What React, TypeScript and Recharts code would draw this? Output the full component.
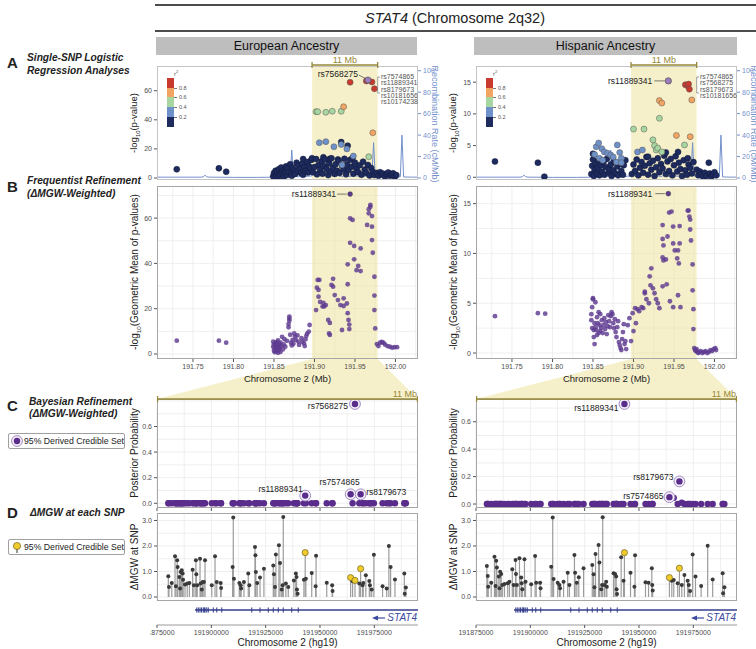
import React from 'react';
import {
  ComposedChart, Scatter, Line, XAxis, YAxis, CartesianGrid, ReferenceArea, ErrorBar,
} from 'recharts';

type Pt = [number, number];

// ---------- shared scales / ticks ----------
const mbDomain: [number, number] = [191.7056, 192.0278];
const hgDomain: [number, number] = [191875000, 191995100];
const recDomain: [number, number] = [-1.86, 104.4];
const mbTicks = [191.75, 191.8, 191.85, 191.9, 191.95, 192.0];
const mbMinorTicks = [191.725, 191.775, 191.825, 191.875, 191.925, 191.975, 192.025];
const hgTicks = [191875000, 191900000, 191925000, 191950000, 191975000];
const hgMinorTicks = [191887500, 191912500, 191937500, 191962500, 191987500];
const recTicks = [0, 20, 40, 60, 80, 100];
const band11Mb = [191.897, 191.978];
const r2Breaks = [0.2, 0.4, 0.6, 0.8];

// recombination rate (cM/Mb), same map under both panels
const recombMb = [191.706, 191.729, 191.76, 191.763, 191.765, 191.767, 191.77, 191.8, 191.83, 191.845, 191.85, 191.855, 191.86, 191.866, 191.87, 191.872, 191.874, 191.88, 191.89, 191.897, 191.9, 191.902, 191.91, 191.915, 191.917, 191.925, 191.935, 191.94, 191.942, 191.95, 191.96, 191.968, 191.971, 191.973, 191.975, 191.98, 191.99, 192.0, 192.006, 192.008, 192.01, 192.02, 192.027];
const recombRate = [0.8, 0.8, 0.8, 1.2, 2.6, 1.2, 0.8, 0.6, 0.6, 0.7, 1.4, 0.9, 1.6, 1.0, 1.8, 26, 1.8, 1.2, 1.5, 2.0, 9, 1.5, 2.2, 6, 1.6, 2.5, 1.4, 5, 1.5, 2.0, 1.4, 2.2, 3, 33, 2.0, 1.0, 1.2, 1.0, 1.2, 40, 1.0, 0.8, 0.8];

// STAT4 gene model (hg19)
const stat4Span = [191892500, 191995100];
const stat4Exons = [191893300, 191894000, 191894800, 191895500, 191896300, 191896800, 191897100, 191897900, 191898600, 191900900, 191902500, 191904800, 191918600, 191922400, 191926200, 191928500, 191930800, 191933100, 191937000, 191940000];

// ---------- A: single-SNP -log10(p), European, by r2 bin ----------
const eurA_r2_00: Pt[] = [
  [191.73, 6.0], [191.782, 6.7], [191.791, 4.3],
  [191.849, 1.2], [191.85, 3.5], [191.851, 0.8], [191.852, 5.0], [191.853, 2.2], [191.854, 4.2], [191.855, 1.0], [191.856, 6.1], [191.857, 3.0], [191.858, 1.8], [191.859, 7.2], [191.86, 4.5], [191.861, 2.5], [191.862, 0.9], [191.863, 5.5], [191.864, 3.8], [191.865, 8.0], [191.866, 2.0], [191.867, 6.5], [191.868, 4.0], [191.87, 9.5], [191.871, 3.2], [191.872, 1.5], [191.873, 7.0], [191.875, 5.2], [191.876, 2.8], [191.878, 10.5], [191.879, 4.6], [191.88, 8.8], [191.882, 6.0], [191.883, 3.5], [191.885, 9.8], [191.886, 13.0], [191.886, 2.2], [191.888, 7.5], [191.889, 5.0], [191.891, 11.0], [191.892, 3.8], [191.893, 8.2], [191.895, 6.8], [191.896, 12.4],
  [191.897, 13.6], [191.898, 4.0], [191.9, 7.5], [191.902, 13.0], [191.903, 2.5], [191.905, 9.0], [191.907, 5.5], [191.909, 11.5], [191.91, 3.0], [191.911, 14.2], [191.912, 8.0], [191.913, 12.8], [191.915, 6.2], [191.917, 2.0], [191.918, 10.0], [191.919, 13.2], [191.92, 4.5], [191.921, 13.5], [191.923, 7.0], [191.925, 2.8], [191.926, 9.5], [191.928, 5.0], [191.929, 12.8], [191.93, 11.8], [191.931, 3.5], [191.933, 24.7], [191.934, 8.5], [191.936, 6.0], [191.937, 13.2], [191.939, 2.5], [191.94, 9.2], [191.941, 22.2], [191.942, 5.5], [191.944, 12.5], [191.946, 7.8], [191.947, 13.8], [191.948, 3.0], [191.95, 10.5], [191.952, 6.5], [191.954, 4.0], [191.956, 8.8], [191.958, 2.2], [191.96, 11.2], [191.962, 5.8], [191.964, 3.5], [191.966, 9.0], [191.968, 1.8], [191.97, 6.8], [191.972, 4.2], [191.974, 2.0],
  [191.977, 3.5], [191.979, 1.5], [191.981, 4.0], [191.983, 2.5], [191.985, 3.0], [191.987, 1.0], [191.989, 2.8], [191.991, 3.8], [191.993, 1.5], [191.995, 2.2], [191.997, 3.2], [191.999, 0.8], [192.001, 2.0],
];
const eurA_r2_02: Pt[] = [[191.906, 24.3], [191.914, 25.0], [191.924, 21.5], [191.933, 23.0], [191.94, 20.0], [191.948, 15.1], [191.934, 9.0]];
const eurA_r2_04: Pt[] = [[191.902, 45.6], [191.904, 45.6], [191.914, 45.2], [191.922, 45.9], [191.933, 45.9], [191.967, 14.6]];
const eurA_r2_06: Pt[] = [[191.936, 49.0], [191.972, 31.1]];
const eurA_r2_08: Pt[] = [[191.944, 65.8], [191.964, 66.7], [191.971, 66.0], [191.974, 61.4]];
const eurA_lead: Pt = [191.966, 67.3];
const eurTopSnps = ['rs7574865', 'rs11889341', 'rs8179673', 'rs10181656', 'rs10174238'];

// ---------- A: Hispanic ----------
const hisA_r2_00: Pt[] = [
  [191.729, 2.5], [191.782, 2.3], [191.79, 0.1],
  [191.848, 0.5], [191.849, 1.8], [191.85, 2.8], [191.85, 3.7], [191.851, 0.2], [191.852, 1.2], [191.853, 2.2], [191.855, 0.6], [191.856, 1.5], [191.857, 2.6], [191.858, 0.3], [191.86, 1.9], [191.861, 0.9], [191.863, 2.4], [191.864, 0.4], [191.866, 1.6], [191.867, 2.9], [191.869, 0.7], [191.87, 1.3], [191.872, 2.0], [191.873, 0.2], [191.875, 1.1], [191.876, 2.5], [191.878, 0.6], [191.88, 1.7], [191.881, 0.3], [191.883, 2.1], [191.885, 1.0], [191.887, 0.4], [191.888, 1.9], [191.89, 2.7],
  [191.898, 0.5], [191.9, 2.0], [191.902, 1.0], [191.904, 2.8], [191.906, 0.3], [191.908, 1.5], [191.91, 2.4], [191.912, 0.7], [191.914, 1.8], [191.916, 3.2], [191.918, 0.4], [191.918, 3.25], [191.92, 2.2], [191.922, 1.2], [191.924, 2.6], [191.926, 0.2], [191.928, 1.6], [191.93, 3.0], [191.932, 0.8], [191.934, 2.1], [191.936, 1.4], [191.938, 3.4], [191.94, 0.5], [191.94, 3.9], [191.942, 2.5], [191.944, 1.0], [191.946, 2.9], [191.948, 0.3], [191.95, 1.9], [191.952, 3.3], [191.954, 0.9], [191.955, 4.0], [191.956, 2.3], [191.958, 1.3], [191.96, 0.2], [191.962, 2.7], [191.964, 1.1], [191.966, 0.4], [191.967, 3.0], [191.968, 2.0], [191.97, 1.5], [191.972, 0.6], [191.974, 2.4],
  [191.978, 1.2], [191.98, 0.3], [191.982, 0.9], [191.984, 0.5], [191.986, 0.1], [191.988, 0.7], [191.99, 0.2], [191.993, 2.3], [191.994, 0.6], [191.996, 0.1], [191.998, 0.5], [192.0, 0.8], [192.002, 0.3],
];
const hisA_r2_02: Pt[] = [[191.852, 3.6], [191.854, 4.8], [191.857, 5.4], [191.858, 3.0], [191.861, 4.5], [191.862, 2.7], [191.864, 4.0], [191.868, 3.8], [191.872, 3.5], [191.875, 3.2], [191.879, 2.4], [191.88, 5.1], [191.883, 3.9], [191.885, 3.0], [191.885, 2.3], [191.905, 4.0], [191.911, 4.3]];
const hisA_r2_04: Pt[] = [[191.9, 7.6], [191.913, 7.6], [191.924, 5.9], [191.926, 5.0], [191.928, 4.3], [191.93, 4.6], [191.932, 9.3], [191.935, 4.0], [191.963, 5.1]];
const hisA_r2_06: Pt[] = [[191.932, 12.1], [191.935, 11.7], [191.953, 6.6], [191.97, 6.4], [191.972, 12.2]];
const hisA_r2_08: Pt[] = [[191.964, 14.6], [191.967, 14.4], [191.968, 14.7], [191.969, 13.9]];
const hisA_lead: Pt = [191.943, 15.2];
const hisTopSnps = ['rs7574865', 'rs7568275', 'rs8179673', 'rs10181656'];

// ---------- B: -log10 geometric mean of p (dMGW weighted) ----------
const eurGmw: Pt[] = [
  [191.73, 5.9], [191.782, 5.9], [191.791, 5.0],
  [191.849, 5.4], [191.849, 3.2], [191.85, 1.5], [191.85, 4.2], [191.851, 2.5], [191.851, 0.8], [191.852, 4.8], [191.852, 3.5], [191.853, 1.2], [191.853, 5.2], [191.854, 2.2], [191.854, 4.0], [191.855, 0.5], [191.855, 6.0], [191.856, 3.0], [191.856, 1.8], [191.857, 4.5], [191.857, 2.8], [191.858, 0.9], [191.858, 5.0], [191.859, 3.6], [191.86, 7.6], [191.861, 2.0], [191.862, 4.2], [191.863, 6.5], [191.864, 3.2], [191.866, 5.8], [191.868, 11.8], [191.868, 13.2], [191.869, 14.7], [191.869, 15.6], [191.869, 16.5], [191.87, 8.5], [191.871, 5.0], [191.872, 3.8], [191.873, 6.2], [191.874, 4.5], [191.875, 9.1], [191.876, 7.8], [191.877, 6.2], [191.879, 8.2], [191.88, 5.5], [191.881, 4.0], [191.884, 7.0], [191.885, 5.4], [191.887, 4.7], [191.888, 3.5], [191.889, 6.5], [191.89, 8.0], [191.891, 9.0], [191.893, 9.9], [191.894, 12.8],
  [191.902, 19.4], [191.903, 29.3], [191.904, 32.7], [191.905, 28.3], [191.905, 25.3], [191.906, 32.7], [191.907, 23.0], [191.91, 21.0], [191.911, 22.6], [191.912, 21.0], [191.914, 21.6], [191.917, 15.0], [191.918, 9.1], [191.919, 13.7], [191.919, 8.4], [191.921, 30.5], [191.923, 33.2], [191.923, 29.7], [191.925, 26.0], [191.929, 23.8], [191.932, 21.6], [191.934, 10.6], [191.936, 24.6], [191.936, 21.2], [191.94, 22.3], [191.941, 30.8], [191.941, 39.6], [191.941, 18.0], [191.942, 15.0], [191.943, 13.0], [191.943, 11.0], [191.944, 59.9], [191.944, 49.1], [191.947, 59.2], [191.949, 47.7], [191.949, 41.8], [191.952, 37.0], [191.954, 38.9], [191.957, 46.6], [191.957, 36.6], [191.965, 57.0], [191.967, 63.9], [191.967, 62.1], [191.969, 65.8], [191.969, 65.0], [191.971, 60.9], [191.971, 56.2], [191.971, 50.3], [191.972, 44.7], [191.974, 34.1], [191.974, 25.8], [191.974, 19.4], [191.975, 11.3],
  [191.977, 4.4], [191.979, 3.5], [191.981, 5.0], [191.983, 5.3], [191.985, 5.0], [191.987, 4.2], [191.99, 3.5], [191.993, 3.2], [191.996, 2.8], [191.999, 3.0], [192.002, 3.0],
];
const eurB_lead: Pt = [191.944, 70.6];

const hisGmw: Pt[] = [
  [191.729, 3.7], [191.782, 4.0], [191.791, 3.95],
  [191.848, 3.9], [191.848, 3.3], [191.849, 2.5], [191.849, 4.6], [191.85, 5.4], [191.85, 5.5], [191.851, 1.6], [191.851, 2.3], [191.852, 0.9], [191.852, 3.0], [191.853, 2.6], [191.853, 5.1], [191.854, 2.3], [191.855, 3.6], [191.855, 1.8], [191.856, 3.0], [191.857, 2.0], [191.857, 4.1], [191.858, 2.8], [191.859, 3.9], [191.859, 2.2], [191.86, 2.5], [191.861, 3.3], [191.862, 2.0], [191.863, 2.8], [191.864, 3.5], [191.865, 2.4], [191.866, 3.1], [191.867, 1.9], [191.868, 2.7], [191.869, 3.8], [191.87, 3.2], [191.871, 2.6], [191.872, 3.7], [191.873, 4.1], [191.874, 3.9], [191.875, 3.0], [191.876, 2.5], [191.877, 3.4], [191.878, 2.1], [191.879, 1.6], [191.88, 2.6], [191.881, 3.2], [191.882, 1.1], [191.883, 0.8], [191.884, 0.5], [191.885, 0.3], [191.886, 1.4], [191.887, 2.1], [191.888, 2.9], [191.889, 0.9], [191.89, 1.2], [191.891, 0.4],
  [191.893, 2.8], [191.895, 3.5], [191.897, 1.2], [191.899, 4.0], [191.9, 2.2], [191.902, 4.5], [191.903, 3.0], [191.905, 4.4], [191.907, 4.2], [191.91, 4.6], [191.912, 4.5], [191.914, 6.15], [191.914, 6.0], [191.916, 5.4], [191.919, 5.0], [191.92, 7.7], [191.921, 6.8], [191.922, 8.5], [191.924, 6.5], [191.926, 6.0], [191.928, 5.4], [191.93, 5.0], [191.932, 4.5], [191.936, 9.6], [191.936, 11.45], [191.936, 12.85], [191.937, 10.8], [191.937, 9.3], [191.936, 6.7], [191.94, 9.4], [191.941, 6.9], [191.942, 11.7], [191.944, 14.1], [191.947, 14.2], [191.945, 5.2], [191.949, 12.7], [191.949, 11.0], [191.949, 4.6], [191.951, 10.3], [191.954, 9.5], [191.955, 10.3], [191.956, 9.0], [191.957, 12.75], [191.957, 11.0], [191.955, 5.8], [191.958, 4.6], [191.967, 14.3], [191.968, 14.3], [191.969, 13.7], [191.97, 13.4], [191.97, 12.4], [191.971, 11.3], [191.973, 8.9], [191.973, 6.3], [191.974, 4.4], [191.974, 2.4],
  [191.975, 0.5], [191.976, 0.3], [191.977, 0.2], [191.978, 0.4], [191.979, 0.1], [191.98, 0.0], [191.981, 0.1], [191.983, 0.2], [191.985, 0.0], [191.987, 0.1], [191.989, 0.2], [191.991, 0.0], [191.993, 0.1], [191.995, 0.3], [191.997, 0.2], [191.999, 0.4], [192.001, 0.5], [192.002, 0.3],
];
const hisB_lead: Pt = [191.943, 16.0];

// ---------- C/D: per-SNP dMGW (hg19 position, dMGW) ----------
const eurMgw: Pt[] = [
  [191880200, 0.81], [191880500, 0.39], [191881800, 0.55], [191883300, 1.6], [191884300, 1.44], [191883700, 0.42], [191884500, 1.18], [191885300, 0.78], [191885900, 0.98], [191886400, 1.05], [191885600, 0.33], [191886800, 0.92], [191887000, 0.68], [191887900, 0.49], [191888900, 0.53], [191889900, 0.55], [191891400, 1.07], [191892000, 0.46], [191892900, 1.44], [191893100, 0.89], [191893500, 0.46], [191894800, 1.5], [191895100, 0.53], [191895600, 0.29], [191896000, 0.59], [191896600, 0.59], [191897100, 1.44], [191900200, 0.46], [191901700, 1.6], [191902500, 0.59], [191904300, 0.55], [191904500, 0.35],
  [191909800, 1.18], [191910100, 3.12], [191910400, 0.72], [191912900, 0.55], [191913500, 0.46], [191913700, 0.33], [191915000, 0.59], [191917000, 0.92], [191917500, 0.46], [191920100, 1.96], [191920300, 1.64], [191920500, 0.98], [191921100, 0.55], [191922400, 0.76], [191924200, 1.11], [191928500, 1.24], [191928800, 0.89], [191929300, 0.39], [191929700, 1.67], [191931100, 2.03], [191931600, 1.33], [191933100, 3.14], [191932400, 0.29], [191932800, 0.46], [191934300, 0.53], [191935400, 0.39],
  [191938000, 0.65], [191938900, 0.92], [191939200, 0.78], [191939400, 0.29], [191939700, 0.13], [191942600, 0.68], [191943200, 1.74], [191943500, 0.72], [191946200, 0.94], [191948000, 0.42], [191948200, 1.62], [191953100, 0.56], [191955600, 0.46], [191955800, 0.24],
  [191964100, 0.76], [191965000, 0.62], [191966100, 0.65], [191968100, 0.53], [191968700, 1.11], [191969600, 0.46], [191969900, 0.55], [191971100, 0.85], [191972700, 0.63], [191973000, 0.46], [191973800, 0.29], [191974800, 1.66], [191978800, 0.42], [191980700, 0.33], [191981700, 2.0], [191982500, 1.18], [191984500, 0.69], [191988800, 0.92], [191989000, 0.13], [191989500, 0.37],
];
const hisMgw: Pt[] = [
  [191880000, 1.22], [191880400, 0.82], [191880600, 0.4], [191882000, 0.56], [191883500, 1.58], [191884300, 1.42], [191884600, 1.16], [191884000, 0.43], [191885500, 0.8], [191886100, 0.99], [191886600, 0.9], [191885800, 0.34], [191887100, 0.47], [191888100, 0.51], [191889600, 0.54], [191890400, 0.6], [191891700, 1.09], [191892300, 0.47], [191893200, 1.45], [191893400, 0.9], [191893800, 0.47], [191895000, 1.52], [191895800, 0.76], [191896000, 0.54], [191896300, 0.3], [191897300, 1.48], [191897800, 0.6], [191900400, 0.5], [191902200, 1.61], [191902700, 0.56], [191904500, 0.56], [191904700, 0.34],
  [191909600, 1.19], [191910300, 3.12], [191910700, 0.71], [191912600, 0.56], [191913400, 0.47], [191913700, 0.34], [191915300, 0.6], [191917200, 0.95], [191918000, 0.47], [191920300, 1.65], [191920600, 0.95], [191921400, 0.56], [191922300, 0.77], [191924500, 1.13], [191928500, 1.25], [191929100, 0.89], [191929500, 0.38], [191930000, 1.69], [191931400, 2.04], [191931800, 1.35], [191933300, 3.13], [191932600, 0.3], [191933000, 0.47], [191934100, 0.47], [191934900, 0.6], [191935200, 0.4],
  [191938300, 0.93], [191939000, 0.9], [191939500, 0.8], [191939700, 0.3], [191939900, 0.12], [191941800, 1.56], [191942900, 0.64], [191943300, 1.74], [191946100, 0.95], [191947900, 0.4], [191948200, 1.64], [191953000, 0.58], [191954400, 0.56], [191955900, 1.13], [191956100, 0.47], [191956300, 0.25],
  [191964000, 0.76], [191965100, 0.64], [191966000, 0.67], [191967800, 0.54], [191968600, 1.13], [191969700, 0.47], [191970900, 0.86], [191972400, 0.64], [191972900, 0.47], [191973500, 0.24], [191974700, 1.67], [191976000, 0.8], [191978600, 0.43], [191981600, 2.01], [191983900, 0.69], [191988500, 0.93], [191988700, 0.15], [191989300, 0.38],
];

// 95% derived credible sets: [rsID, hg19 position, posterior probability]
const eurCredible: [string, number, number][] = [
  ['rs11889341', 191943200, 0.06],
  ['rs7574865', 191964100, 0.07],
  ['rs7568275', 191966100, 0.776],
  ['rs8179673', 191968700, 0.07],
];
const hisCredible: [string, number, number][] = [
  ['rs11889341', 191943300, 0.73],
  ['rs7574865', 191964000, 0.05],
  ['rs8179673', 191968600, 0.165],
];
const hisPostOther: Pt[] = [[191965100, 0.045], [191966000, 0.045], [191969700, 0.01]];

// ---------- styling / layout ----------
const FONT = '"Liberation Sans", Arial, Helvetica, sans-serif';
const C = {
  navy: '#1E2B5E', lblue: '#6F91C9', green: '#A7D6A1', orange: '#F2A463', red: '#C93A2E', lead: '#9A7DBA',
  purple: '#5E3B90', cs: '#5A2C8B', ring: '#A28AC6', olive: '#978838', band: '#EEE39F', trap: '#F6F0CA',
  rec: '#7390CC', gene: '#353D8C', grid: '#EBEBEB', frame: '#A6A6A6', tick: '#4D4D4D', yellow: '#EFCB2D',
};
const PW = 261;
const ROWS = { A: [66, 180], B: [186, 359], C: [399, 508], D: [513, 601], G: [603, 625] };
const M0 = { top: 0, right: 0, bottom: 0, left: 0 };
const AX = { fontSize: 7, fill: C.tick, fontFamily: FONT };
const TL = { stroke: '#555' };

const toRows = (pts: Pt[]) => pts.map(([x, y]) => ({ x, y }));
const recombRows = recombMb.map((x, i) => ({ x, rate: recombRate[i] }));
const geneRows = stat4Span.map((x) => ({ x, y: 0 }));
const exonRows = stat4Exons.map((x) => ({ x, y: 0 }));
const mbPx = (mb: number, left: number) => left + ((mb - mbDomain[0]) / (mbDomain[1] - mbDomain[0])) * PW;

function gridGen(vals: number[], dom: number[], dir: 'x' | 'y') {
  return (props: any) => {
    const ax = dir === 'x' ? props.xAxis : props.yAxis;
    const o = props.offset;
    return vals.map((v) => {
      if (ax && typeof ax.scale === 'function') return ax.scale(v);
      return dir === 'x'
        ? o.left + ((v - dom[0]) / (dom[1] - dom[0])) * o.width
        : o.top + ((dom[1] - v) / (dom[1] - dom[0])) * o.height;
    });
  };
}

const dot = (r: number, fill: string, stroke = 'none', sw = 0, op = 1) => (p: any) => (
  <circle cx={p.cx} cy={p.cy} r={r} fill={fill} fillOpacity={op} stroke={stroke} strokeWidth={sw} />
);

const leadShape = (fill: string, label: string, c: any, r = 3.2) => (p: any) => (
  <g>
    <line x1={p.cx + c.lx1} y1={p.cy + c.ly1} x2={p.cx + c.lx2} y2={p.cy + c.ly2} stroke="#444" strokeWidth={0.7} />
    <text x={p.cx + c.tx} y={p.cy + c.ty} textAnchor="end" dominantBaseline="central" fontSize={8.5} fill="#222" fontFamily={FONT}>{label}</text>
    <circle cx={p.cx} cy={p.cy} r={r} fill={fill} stroke="#333" strokeWidth={0.5} />
  </g>
);

const csShape = (pos: any) => (p: any) => {
  const [dx, dy, anchor] = pos[p.payload.rs] || [6, -6, 'start'];
  return (
    <g>
      <circle cx={p.cx} cy={p.cy} r={5.4} fill="#F4F0F8" stroke={C.ring} strokeWidth={1} />
      <circle cx={p.cx} cy={p.cy} r={3.2} fill={C.cs} />
      <text x={p.cx + dx} y={p.cy + dy} textAnchor={anchor} dominantBaseline="central" fontSize={8.5} fill="#222" fontFamily={FONT}>{p.payload.rs}</text>
    </g>
  );
};

const exonShape = (p: any) => (
  <line x1={p.cx} x2={p.cx} y1={p.cy - 2.6} y2={p.cy + 2.6} stroke={C.gene} strokeWidth={1} />
);

const COLS = [
  {
    key: 'eur', left: 157, title: 'European Ancestry', header: [156, 417],
    a: [eurA_r2_00, eurA_r2_02, eurA_r2_04, eurA_r2_06, eurA_r2_08], aLead: eurA_lead, aLeadRs: 'rs7568275',
    aLeadCfg: { tx: -10, ty: -6, lx1: -9, ly1: -5, lx2: -2.5, ly2: -1.5 },
    aDomain: [-1.37, 77.0], aTicks: [0, 20, 40, 60], topSnps: eurTopSnps,
    b: eurGmw, bLead: eurB_lead, bLeadCfg: { tx: -14, ty: 0, lx1: -13, ly1: 0, lx2: -3.5, ly2: 0 },
    bDomain: [-2.21, 74.17], bTicks: [0, 20, 40, 60], bMinor: [10, 30, 50, 70],
    cDomain: [-0.037, 0.815], mgw: eurMgw, credible: eurCredible, postOther: [] as Pt[],
    csLabels: { rs7568275: [-7, 2, 'end'], rs11889341: [-2.5, -7, 'end'], rs7574865: [-11, -12, 'middle'], rs8179673: [5.5, -2.6, 'start'] },
    geneMargin: 7,
  },
  {
    key: 'his', left: 476, title: 'Hispanic Ancestry', header: [474, 737],
    a: [hisA_r2_00, hisA_r2_02, hisA_r2_04, hisA_r2_06, hisA_r2_08], aLead: hisA_lead, aLeadRs: 'rs11889341',
    aLeadCfg: { tx: -16, ty: 0, lx1: -14, ly1: 0, lx2: -3.5, ly2: 0 },
    aDomain: [-0.43, 17.55], aTicks: [0, 5, 10, 15], topSnps: hisTopSnps,
    b: hisGmw, bLead: hisB_lead, bLeadCfg: { tx: -16, ty: 0, lx1: -13, ly1: 0, lx2: -3.5, ly2: 0 },
    bDomain: [-0.6, 16.77], bTicks: [0, 5, 10, 15], bMinor: [2.5, 7.5, 12.5],
    cDomain: [-0.029, 0.766], mgw: hisMgw, credible: hisCredible, postOther: hisPostOther,
    csLabels: { rs11889341: [-6, 4, 'end'], rs8179673: [-6, -4.3, 'end'], rs7574865: [-6, -1.3, 'end'] },
    geneMargin: 25,
  },
];

const r2Colors = [C.navy, C.lblue, C.green, C.orange, C.red];

function Abs({ l, t, children, style }: any) {
  return <div style={{ position: 'absolute', left: l, top: t, ...style }}>{children}</div>;
}

function T({ x, y, children, size = 10, anchor = 'left', color = '#222', style = {} }: any) {
  const tx = anchor === 'center' ? '-50%' : anchor === 'right' ? '-100%' : '0';
  return (
    <div style={{ position: 'absolute', left: x, top: y, transform: `translate(${tx}, -50%)`, fontSize: size, color, whiteSpace: 'nowrap', lineHeight: 1, fontFamily: FONT, ...style }}>
      {children}
    </div>
  );
}

function VT({ x, y, children, size = 10, color = '#222', rot = -90 }: any) {
  return (
    <div style={{ position: 'absolute', left: x, top: y, transform: `translate(-50%, -50%) rotate(${rot}deg)`, fontSize: size, color, whiteSpace: 'nowrap', lineHeight: 1, fontFamily: FONT }}>
      {children}
    </div>
  );
}

function Frame({ l, t, w, h, color = C.frame }: any) {
  return <div style={{ position: 'absolute', left: l, top: t, width: w, height: h, border: `1px solid ${color}`, boxSizing: 'border-box', pointerEvents: 'none' }} />;
}

const sub = <sub style={{ fontSize: '62%', lineHeight: 0 }}>10</sub>;

function LocusPanel({ col }: any) {
  const wL = 22, wR = 24;
  const [t, b] = ROWS.A;
  return (
    <Abs l={col.left - wL} t={t}>
      <ComposedChart width={wL + PW + wR} height={b - t} margin={M0}>
        <XAxis type="number" dataKey="x" domain={mbDomain} hide allowDataOverflow />
        <YAxis yAxisId="p" type="number" dataKey="y" domain={col.aDomain} ticks={col.aTicks} interval={0} width={wL} tickSize={3} axisLine={false} tickLine={TL} tick={AX} allowDataOverflow />
        <YAxis yAxisId="r" orientation="right" type="number" domain={recDomain} ticks={recTicks} interval={0} width={wR} tickSize={3} axisLine={false} tickLine={{ stroke: C.rec }} tick={{ ...AX, fill: C.rec }} allowDataOverflow />
        <ReferenceArea yAxisId="p" x1={band11Mb[0]} x2={band11Mb[1]} fill={C.band} fillOpacity={0.55} stroke="none" />
        <Line yAxisId="r" data={recombRows} dataKey="rate" type="linear" stroke={C.rec} strokeWidth={1} dot={false} isAnimationActive={false} />
        {col.a.map((pts: Pt[], i: number) => (
          <Scatter key={i} yAxisId="p" data={toRows(pts)} shape={dot(3, r2Colors[i], i === 0 ? '#10183a' : '#555', 0.5)} isAnimationActive={false} />
        ))}
        <Scatter yAxisId="p" data={toRows([col.aLead])} shape={leadShape(C.lead, col.aLeadRs, col.aLeadCfg)} isAnimationActive={false} />
      </ComposedChart>
    </Abs>
  );
}

function RefinePanel({ col }: any) {
  const wL = 22, hX = 16;
  const [t, b] = ROWS.B;
  return (
    <Abs l={col.left - wL} t={t}>
      <ComposedChart width={wL + PW} height={b - t + hX} margin={M0}>
        <CartesianGrid stroke={C.grid} strokeWidth={0.8}
          verticalCoordinatesGenerator={gridGen([...mbTicks, ...mbMinorTicks], mbDomain, 'x')}
          horizontalCoordinatesGenerator={gridGen([...col.bTicks, ...col.bMinor], col.bDomain, 'y')} />
        <XAxis type="number" dataKey="x" domain={mbDomain} ticks={mbTicks} interval={0} tickFormatter={(v: number) => v.toFixed(2)} height={hX} tickSize={3} axisLine={false} tickLine={TL} tick={AX} allowDataOverflow />
        <YAxis type="number" dataKey="y" domain={col.bDomain} ticks={col.bTicks} interval={0} width={wL} tickSize={3} axisLine={false} tickLine={TL} tick={AX} allowDataOverflow />
        <ReferenceArea x1={band11Mb[0]} x2={band11Mb[1]} fill={C.band} fillOpacity={0.55} stroke="none" />
        <Scatter data={toRows(col.b)} shape={dot(2.4, C.purple, 'none', 0, 0.82)} isAnimationActive={false} />
        <Scatter data={toRows([col.bLead])} shape={leadShape(C.purple, 'rs11889341', col.bLeadCfg, 2.4)} isAnimationActive={false} />
      </ComposedChart>
    </Abs>
  );
}

function PosteriorPanel({ col }: any) {
  const wL = 22, hX = 6;
  const [t, b] = ROWS.C;
  const credPos = col.credible.map((c: any) => c[1]);
  const other = new Map(col.postOther);
  const rows = col.mgw.filter(([p]: Pt) => !credPos.includes(p)).map(([p]: Pt) => ({ x: p, y: other.has(p) ? other.get(p) : 0 }));
  const cred = col.credible.map(([rs, p, v]: any) => ({ x: p, y: v, rs }));
  return (
    <Abs l={col.left - wL} t={t}>
      <ComposedChart width={wL + PW} height={b - t + hX} margin={M0}>
        <CartesianGrid stroke={C.grid} strokeWidth={0.8}
          verticalCoordinatesGenerator={gridGen([...hgTicks, ...hgMinorTicks], hgDomain, 'x')}
          horizontalCoordinatesGenerator={gridGen([0, 0.1, 0.2, 0.3, 0.4, 0.5, 0.6, 0.7, 0.8], col.cDomain, 'y')} />
        <XAxis type="number" dataKey="x" domain={hgDomain} ticks={hgTicks} interval={0} tickFormatter={() => ''} height={hX} tickSize={3} axisLine={false} tickLine={TL} tick={AX} allowDataOverflow />
        <YAxis type="number" dataKey="y" domain={col.cDomain} ticks={[0, 0.2, 0.4, 0.6]} interval={0} tickFormatter={(v: number) => v.toFixed(1)} width={wL} tickSize={3} axisLine={false} tickLine={TL} tick={AX} allowDataOverflow />
        <Scatter data={rows} shape={dot(3.2, C.cs)} isAnimationActive={false} />
        <Scatter data={cred} shape={csShape(col.csLabels)} isAnimationActive={false} />
      </ComposedChart>
    </Abs>
  );
}

function MgwPanel({ col }: any) {
  const wL = 22;
  const [t, b] = ROWS.D;
  const credPos = col.credible.map((c: any) => c[1]);
  const rows = col.mgw.map(([p, v]: Pt) => ({ x: p, y: v, err: [v, 0] }));
  const plain = rows.filter((r: any) => !credPos.includes(r.x));
  const cred = rows.filter((r: any) => credPos.includes(r.x));
  return (
    <Abs l={col.left - wL} t={t}>
      <ComposedChart width={wL + PW} height={b - t} margin={M0}>
        <CartesianGrid stroke={C.grid} strokeWidth={0.8}
          verticalCoordinatesGenerator={gridGen([...hgTicks, ...hgMinorTicks], hgDomain, 'x')}
          horizontalCoordinatesGenerator={gridGen([0, 0.5, 1, 1.5, 2, 2.5, 3], [-0.157, 3.294], 'y')} />
        <XAxis type="number" dataKey="x" domain={hgDomain} hide allowDataOverflow />
        <YAxis type="number" dataKey="y" domain={[-0.157, 3.294]} ticks={[0, 1, 2, 3]} interval={0} tickFormatter={(v: number) => v.toFixed(1)} width={wL} tickSize={3} axisLine={false} tickLine={TL} tick={AX} allowDataOverflow />
        <Scatter data={plain} shape={dot(2, '#3A3A3A')} isAnimationActive={false}>
          <ErrorBar dataKey="err" direction="y" width={0} stroke="#9C9C9C" strokeWidth={1.2} />
        </Scatter>
        <Scatter data={cred} shape={dot(3.1, C.yellow, '#5E5215', 0.6)} isAnimationActive={false}>
          <ErrorBar dataKey="err" direction="y" width={0} stroke="#9C9C9C" strokeWidth={1.2} />
        </Scatter>
      </ComposedChart>
    </Abs>
  );
}

function GenePanel({ col }: any) {
  const [t, b] = ROWS.G;
  const gm = col.geneMargin;
  return (
    <Abs l={col.left - gm} t={t}>
      <ComposedChart width={gm + PW + 20} height={b - t + 14} margin={{ top: 0, right: 20, bottom: 0, left: gm }}>
        <XAxis type="number" dataKey="x" domain={hgDomain} ticks={hgTicks} interval={0} height={14} tickSize={3} axisLine={{ stroke: '#9A9A9A' }} tickLine={TL} tick={AX} allowDataOverflow />
        <YAxis type="number" dataKey="y" domain={[-2.14, 1]} hide />
        <Line data={geneRows} dataKey="y" stroke={C.gene} strokeWidth={1.3} dot={false} isAnimationActive={false} />
        <Scatter data={exonRows} shape={exonShape} isAnimationActive={false} />
      </ComposedChart>
    </Abs>
  );
}

function R2Legend({ x, y }: any) {
  const blocks = [...r2Colors].reverse();
  const labels = [...r2Breaks].reverse();
  const h = 9.8;
  return (
    <Abs l={x} t={y}>
      <div style={{ position: 'absolute', left: 7, top: -9, fontSize: 6, color: '#555', fontFamily: FONT }}>r<sup style={{ fontSize: '70%' }}>2</sup></div>
      {blocks.map((c, i) => (
        <div key={i} style={{ position: 'absolute', left: 0, top: i * h, width: 7, height: h, background: c }} />
      ))}
      {labels.map((v, i) => (
        <React.Fragment key={v}>
          <div style={{ position: 'absolute', left: 7, top: (i + 1) * h, width: 3, height: 0.6, background: '#777' }} />
          <div style={{ position: 'absolute', left: 12, top: (i + 1) * h - 3, fontSize: 5.5, lineHeight: '6px', color: '#555', fontFamily: FONT }}>{v.toFixed(1)}</div>
        </React.Fragment>
      ))}
    </Abs>
  );
}

function Column({ col }: any) {
  const L = col.left;
  const R = L + PW;
  const cx = L + PW / 2;
  return (
    <>
      <div style={{ position: 'absolute', left: col.header[0], top: 37, width: col.header[1] - col.header[0], height: 18, background: '#BEBEBE', display: 'flex', alignItems: 'center', justifyContent: 'center', fontSize: 12.5, color: '#111', fontFamily: FONT }}>
        {col.title}
      </div>
      <LocusPanel col={col} />
      <RefinePanel col={col} />
      <PosteriorPanel col={col} />
      <MgwPanel col={col} />
      <GenePanel col={col} />
      <Frame l={L} t={ROWS.A[0]} w={PW} h={ROWS.A[1] - ROWS.A[0]} color="#C4C4C4" />
      <Frame l={L} t={ROWS.B[0]} w={PW} h={ROWS.B[1] - ROWS.B[0]} />
      <Frame l={L} t={ROWS.C[0]} w={PW} h={ROWS.C[1] - ROWS.C[0]} />
      <Frame l={L} t={ROWS.D[0]} w={PW} h={ROWS.D[1] - ROWS.D[0]} />
      <R2Legend x={L + 10} y={77.8} />
      <div style={{ position: 'absolute', left: L + 224, top: 74, fontSize: 7, lineHeight: '6.3px', color: '#555', fontFamily: FONT }}>
        {col.topSnps.map((s: string) => <div key={s}>{s}</div>)}
      </div>
      <VT x={L - 23} y={123} size={9.5}>-log{sub}(p-value)</VT>
      <VT x={R + 16} y={124} size={9} rot={90} color={C.rec}>Recombination Rate (cM/Mb)</VT>
      <VT x={L - 22} y={272} size={10}>-log{sub}(Geometric Mean of p-values)</VT>
      <T x={cx} y={379} size={9.5} anchor="center">Chromosome 2 (Mb)</T>
      <VT x={L - 22} y={453} size={10}>Posterior Probability</VT>
      <VT x={L - 22} y={557} size={10}>ΔMGW at SNP</VT>
      <T x={R - 1} y={618} size={10} anchor="right" color="#3B4A9E" style={{ fontStyle: 'italic' }}>STAT4</T>
      <T x={cx} y={643} size={10} anchor="center">Chromosome 2 (hg19)</T>
    </>
  );
}

function BackShapes() {
  return (
    <svg width={756} height={649} style={{ position: 'absolute', left: 0, top: 0 }}>
      {COLS.map((c) => {
        const x0 = mbPx(band11Mb[0], c.left);
        const x1 = mbPx(band11Mb[1], c.left);
        return (
          <polygon key={c.key} fill={C.trap}
            points={`${x0},${ROWS.B[1]} ${x1},${ROWS.B[1]} ${c.left + PW},${ROWS.C[0]} ${c.left},${ROWS.C[0]}`} />
        );
      })}
    </svg>
  );
}

function FrontShapes() {
  return (
    <svg width={756} height={649} style={{ position: 'absolute', left: 0, top: 0, pointerEvents: 'none' }}>
      <line x1={155} x2={756} y1={5} y2={5} stroke="#111" strokeWidth={1.4} />
      <line x1={155} x2={756} y1={31} y2={31} stroke="#111" strokeWidth={1.4} />
      {COLS.map((c) => {
        const x0 = mbPx(band11Mb[0], c.left);
        const x1 = mbPx(band11Mb[1], c.left);
        const L = c.left, R = c.left + PW, yc = ROWS.C[0];
        const by = 77, bh = 16, bx = L + 220.7;
        return (
          <g key={c.key}>
            <line x1={x0} x2={x1} y1={65} y2={65} stroke={C.olive} strokeWidth={1.3} />
            <line x1={x0} x2={x0} y1={62} y2={68} stroke={C.olive} strokeWidth={1.3} />
            <line x1={x1} x2={x1} y1={62} y2={68} stroke={C.olive} strokeWidth={1.3} />
            <text x={(x0 + x1) / 2} y={59.5} textAnchor="middle" dominantBaseline="central" fontSize={9} fill={C.olive} fontFamily={FONT}>11 Mb</text>
            <line x1={L} x2={R} y1={yc} y2={yc} stroke={C.olive} strokeWidth={1.4} />
            <line x1={L + 0.6} x2={L + 0.6} y1={yc - 3} y2={yc + 3} stroke={C.olive} strokeWidth={1.2} />
            <line x1={R - 0.6} x2={R - 0.6} y1={yc - 3} y2={yc + 3} stroke={C.olive} strokeWidth={1.2} />
            <text x={R - 1} y={yc - 5} textAnchor="end" dominantBaseline="central" fontSize={9} fill={C.olive} fontFamily={FONT}>11 Mb</text>
            <line x1={bx} x2={bx} y1={by} y2={by + bh} stroke="#666" strokeWidth={0.6} />
            <line x1={bx} x2={bx + 2.5} y1={by} y2={by} stroke="#666" strokeWidth={0.6} />
            <line x1={bx} x2={bx + 2.5} y1={by + bh} y2={by + bh} stroke="#666" strokeWidth={0.6} />
            <line x1={R - 33} x2={R - 44} y1={618} y2={618} stroke="#3B4A9E" strokeWidth={1.2} />
            <polygon points={`${R - 46},618 ${R - 40},615.6 ${R - 40},620.4`} fill="#3B4A9E" />
          </g>
        );
      })}
    </svg>
  );
}

function LegendBox({ y, glyph }: any) {
  return (
    <div style={{ position: 'absolute', left: 8, top: y, width: 117, height: 16, border: '1px solid #A0A0A0', borderRadius: 2, boxSizing: 'border-box', background: '#fff' }}>
      <svg width={14} height={14} style={{ position: 'absolute', left: 1, top: 0 }}>{glyph}</svg>
      <div style={{ position: 'absolute', left: 15, top: 7, transform: 'translateY(-50%)', fontSize: 8.7, lineHeight: 1, color: '#222', whiteSpace: 'nowrap', fontFamily: FONT }}>95% Derived Credible Set</div>
    </div>
  );
}

function RowLabels() {
  const big = { fontWeight: 700, fontSize: 15 };
  const bi = { fontWeight: 700, fontStyle: 'italic' };
  return (
    <>
      <T x={7} y={62} style={big}>A</T>
      <T x={27} y={58} size={10.2} style={bi}>Single-SNP Logistic</T>
      <T x={27} y={71} size={10.2} style={bi}>Regression Analyses</T>
      <T x={7} y={186} style={big}>B</T>
      <T x={27} y={181} size={10.2} style={bi}>Frequentist Refinement</T>
      <T x={27} y={194} size={10.2} style={bi}>(ΔMGW-Weighted)</T>
      <T x={7} y={405} style={big}>C</T>
      <T x={29} y={401.5} size={10.2} style={bi}>Bayesian Refinement</T>
      <T x={29} y={413.5} size={10.2} style={bi}>(ΔMGW-Weighted)</T>
      <LegendBox y={433} glyph={<g><circle cx={7} cy={7} r={5.4} fill="#F4F0F8" stroke={C.ring} strokeWidth={1} /><circle cx={7} cy={7} r={3.2} fill={C.cs} /></g>} />
      <T x={7} y={512} style={big}>D</T>
      <T x={30} y={512.5} size={10.2} style={bi}>ΔMGW at each SNP</T>
      <LegendBox y={539} glyph={<g><line x1={7} x2={7} y1={7} y2={13} stroke="#333" strokeWidth={1} /><circle cx={7} cy={6} r={3.6} fill={C.yellow} stroke="#5E5215" strokeWidth={0.6} /></g>} />
    </>
  );
}

export default function App() {
  return (
    <div style={{ position: 'absolute', left: 0, top: 0, width: 756, height: 649, background: '#fff', overflow: 'hidden', fontFamily: FONT }}>
      <BackShapes />
      <T x={455} y={18} size={14.5} anchor="center"><i>STAT4</i> (Chromosome 2q32)</T>
      {COLS.map((col) => <Column key={col.key} col={col} />)}
      <RowLabels />
      <FrontShapes />
    </div>
  );
}
